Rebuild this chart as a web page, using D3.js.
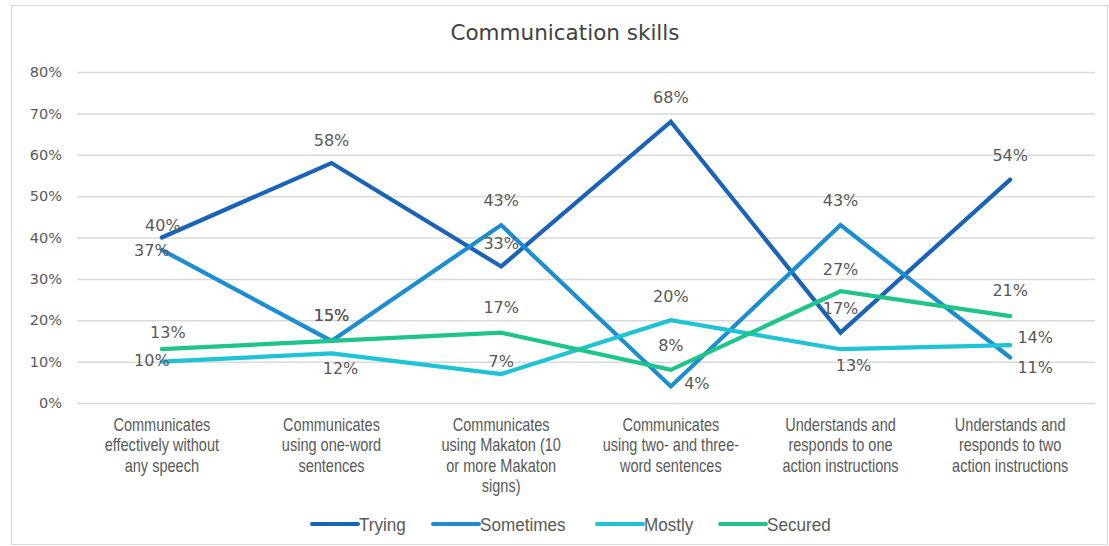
<!DOCTYPE html>
<html>
<head>
<meta charset="utf-8">
<script src="https://cdn.jsdelivr.net/npm/d3@7"></script>
<style>
  html, body { margin: 0; padding: 0; background: #fff; }
  svg { display: block; }
</style>
</head>
<body>
<svg id="chart" width="1109" height="546"></svg>
<script>
// Communication skills survey results
const categories = [
  "Communicates\neffectively without\nany speech",
  "Communicates\nusing one-word\nsentences",
  "Communicates\nusing Makaton (10\nor more Makaton\nsigns)",
  "Communicates\nusing two- and three-\nword sentences",
  "Understands and\nresponds to one\naction instructions",
  "Understands and\nresponds to two\naction instructions"
];
const seriesNames = ["Trying", "Sometimes", "Mostly", "Secured"];
const trying    = [0.40, 0.58, 0.33, 0.68, 0.17, 0.54];
const sometimes = [0.37, 0.15, 0.43, 0.04, 0.43, 0.11];
const mostly    = [0.10, 0.12, 0.07, 0.20, 0.13, 0.14];
const secured   = [0.13, 0.15, 0.17, 0.08, 0.27, 0.21];
const yTicks    = [0, 0.1, 0.2, 0.3, 0.4, 0.5, 0.6, 0.7, 0.8];

// Data label placement (offset of label centre from its point)
const labelOffsets = {
  Trying:    [[1,-12],[0,-23],[0,-23],[0,-24],[0,-24],[0,-24]],
  Sometimes: [[-10,0],[0,-26],[0,-25],[26,-3],[0,-25],[25,10]],
  Mostly:    [[-10,-1],[9,15],[0,-13],[0,-24],[13,16],[25,-8]],
  Secured:   [[6,-17],[0,-26],[0,-25],[0,-25],[0,-22],[0,-26]]
};

const colors = {
  Trying: "#1b63b9",
  Sometimes: "#1b8dd0",
  Mostly: "#1ec3d5",
  Secured: "#1fc48b"
};

const series = seriesNames.map((name, i) => ({
  name,
  values: [trying, sometimes, mostly, secured][i]
}));

const svg = d3.select("#chart");
const numFont = "'DejaVu Sans', Verdana, sans-serif";
const textFont = "'Liberation Sans', Arial, sans-serif";
const pct = d3.format(".0%");

// chart frame
svg.append("rect")
  .attr("x", 11.5).attr("y", 5.5)
  .attr("width", 1096).attr("height", 539)
  .attr("fill", "#fff").attr("stroke", "#d9d9d9").attr("stroke-width", 1);

const x = d3.scalePoint().domain(categories).range([77, 1095]).padding(0.5);
const y = d3.scaleLinear().domain([0, 0.8]).range([403, 72]);

// title
svg.append("text")
  .attr("x", 565).attr("y", 40)
  .attr("text-anchor", "middle")
  .attr("font-family", numFont).attr("font-size", 21.5)
  .attr("fill", "#404040")
  .text("Communication skills");

// gridlines + y axis labels
const yAxis = d3.axisLeft(y)
  .tickValues(yTicks)
  .tickSize(-(1095 - 77))
  .tickPadding(15)
  .tickFormat(pct);
const gy = svg.append("g").attr("transform", "translate(77,0)").call(yAxis);
gy.select(".domain").remove();
gy.selectAll(".tick line").attr("stroke", "#d9d9d9").attr("stroke-width", 1.5);
gy.selectAll(".tick text")
  .attr("font-family", numFont).attr("font-size", 14.5)
  .attr("fill", "#595959");

// category labels (condensed)
const gx = svg.append("g");
categories.forEach(c => {
  const t = gx.append("text")
    .attr("transform", `translate(${x(c)},431) scale(0.83,1)`)
    .attr("text-anchor", "middle")
    .attr("font-family", textFont).attr("font-size", 17.5)
    .attr("fill", "#595959");
  c.split("\n").forEach((line, i) => {
    t.append("tspan").attr("x", 0).attr("dy", i === 0 ? 0 : 20.5).text(line);
  });
});

// lines
const line = d3.line()
  .x((d, i) => x(categories[i]))
  .y(d => y(d));

svg.append("g").selectAll("path")
  .data(series)
  .join("path")
  .attr("d", d => line(d.values))
  .attr("fill", "none")
  .attr("stroke", d => colors[d.name])
  .attr("stroke-width", 4.2)
  .attr("stroke-linejoin", "miter")
  .attr("stroke-linecap", "round");

// data labels
const labels = svg.append("g");
series.forEach(s => {
  s.values.forEach((v, i) => {
    const off = labelOffsets[s.name][i];
    labels.append("text")
      .attr("x", x(categories[i]) + off[0])
      .attr("y", y(v) + off[1])
      .attr("dy", "0.36em")
      .attr("text-anchor", "middle")
      .attr("font-family", numFont).attr("font-size", 16)
      .attr("fill", "#595959")
      .text(pct(v));
  });
});

// legend
const legendX = [312, 433, 597, 720];
const legend = svg.append("g");
series.forEach((s, i) => {
  const g = legend.append("g").attr("transform", `translate(${legendX[i]},524)`);
  g.append("line")
    .attr("x1", 0).attr("x2", 46)
    .attr("stroke", colors[s.name]).attr("stroke-width", 4)
    .attr("stroke-linecap", "round");
  g.append("text")
    .attr("transform", "translate(47,0) scale(0.9,1)")
    .attr("dy", "0.35em")
    .attr("font-family", textFont).attr("font-size", 19)
    .attr("fill", "#595959")
    .text(s.name);
});
</script>
</body>
</html>
